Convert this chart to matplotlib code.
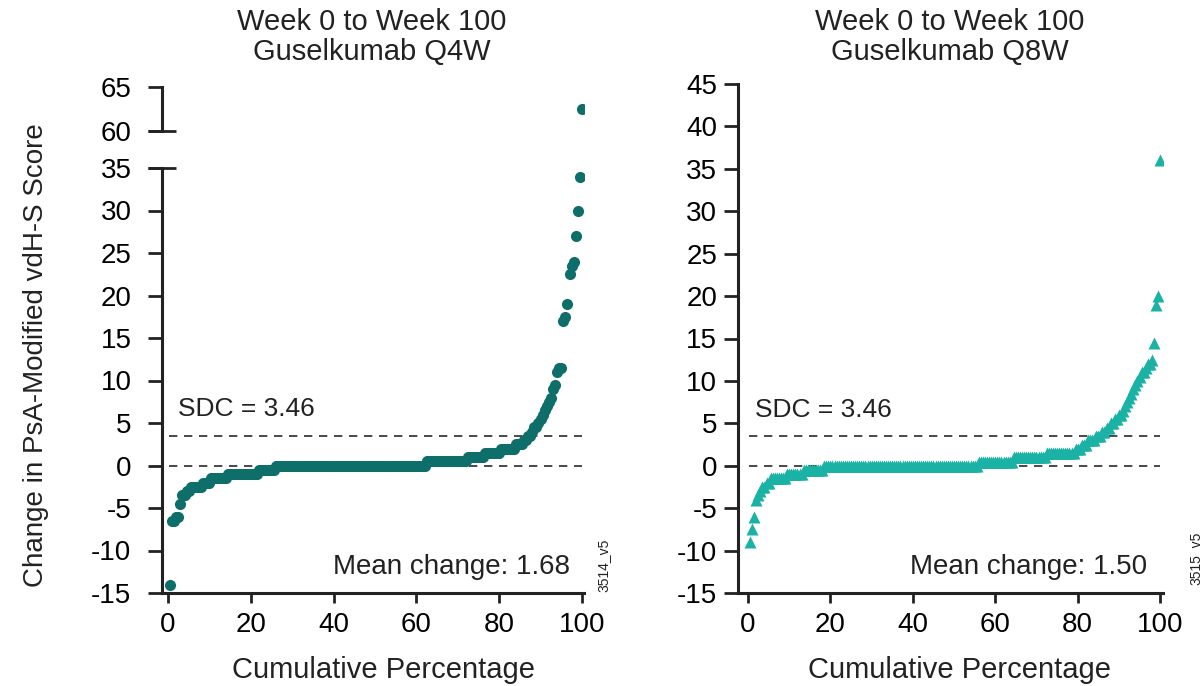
import numpy as np
import matplotlib.pyplot as plt

plt.rcParams['font.family'] = ['Liberation Sans', 'DejaVu Sans']
plt.rcParams['axes.unicode_minus'] = False

# change scores (sorted) and how many patients share each value
q4w_values = [-14, -6.5, -6, -4.5, -3.5, -3, -2.5, -2, -1.5, -1, -0.5, 0, 0.5, 1, 1.5, 2, 2.5, 3, 3.5,
              4, 4.5, 5, 5.5, 6, 6.5, 7, 7.5, 8, 9, 9.5, 11, 11.5, 17, 17.5, 19, 22.5, 23.5, 24, 27, 30, 34, 62.5]
q4w_counts = [1, 2, 2, 1, 2, 2, 6, 4, 8, 15, 8, 73, 20, 8, 8, 7, 4, 2, 2,
              1, 2, 1, 1, 1, 1, 1, 1, 1, 1, 1, 1, 2, 1, 1, 1, 1, 1, 1, 1, 1, 1, 1]

q8w_values = [-9, -7.5, -6, -4, -3.5, -3, -2.5, -2, -1.5, -1, -0.5, 0, 0.5, 1, 1.5, 2, 2.5, 3, 3.5,
              4, 4.5, 5, 5.5, 6, 6.5, 7, 7.5, 8, 8.5, 9, 9.5, 10, 10.5, 11, 11.5, 12, 12.5, 14.5, 19, 20, 36]
q8w_counts = [1, 1, 1, 1, 1, 1, 2, 2, 8, 8, 10, 75, 17, 16, 14, 3, 3, 4, 3,
              2, 2, 2, 2, 2, 1, 1, 1, 1, 1, 1, 1, 1, 1, 2, 1, 2, 1, 1, 1, 1, 1]

sdc = 3.46
mean_q4w = 1.68
mean_q8w = 1.50

q4w = np.repeat(q4w_values, q4w_counts)
q8w = np.repeat(q8w_values, q8w_counts)
pct_q4w = np.arange(1, len(q4w) + 1) / len(q4w) * 100
pct_q8w = np.arange(1, len(q8w) + 1) / len(q8w) * 100

W, H = 1201, 686
fig = plt.figure(figsize=(W / 100, H / 100), dpi=100)

def px_axes(left, top, right, bottom):
    return fig.add_axes([left / W, 1 - bottom / H, (right - left) / W, (bottom - top) / H])

ink = '#222222'
c_q4w = '#0e6e6a'
c_q8w = '#19b2a4'
fs = 20

def style(ax, ypad):
    for s in ['top', 'right']:
        ax.spines[s].set_visible(False)
    for s in ['left', 'bottom']:
        ax.spines[s].set_linewidth(2.2)
        ax.spines[s].set_color(ink)
    ax.tick_params(axis='y', length=10, width=2, color=ink, labelsize=fs, pad=ypad)
    ax.tick_params(axis='x', length=7, width=2, color=ink, labelsize=fs, pad=7)

def ref_lines(ax):
    for y in [0, sdc]:
        ax.hlines(y, 0.3, 100, colors='#2a2a2a', linewidth=1.2, linestyles=(0, (5, 4)), zorder=1)

# ---- left panel: Q4W with broken axis
axl = px_axes(162, 168, 584, 593)
axu = px_axes(162, 87, 584, 131)
for ax in (axl, axu):
    ax.plot(pct_q4w, q4w, 'o', color=c_q4w, ms=8, mec='none', zorder=3)
    ax.set_xlim(-1.45, 100.5)
    style(ax, 12)
axl.set_ylim(-15, 35)
axl.set_yticks(np.arange(-15, 36, 5))
axl.set_xticks(np.arange(0, 101, 20))
axu.set_ylim(60, 65)
axu.set_yticks([60, 65])
axu.spines['bottom'].set_visible(False)
axu.set_xticks([])
for ax, y in [(axl, 35), (axu, 60)]:
    ax.plot([-0.033, 0.033], [y, y], transform=ax.get_yaxis_transform(),
            color=ink, lw=2, clip_on=False, solid_capstyle='butt')
ref_lines(axl)
axl.text(2.4, 6.6, 'SDC = 3.46', fontsize=19, va='center', ha='left', color=ink)
axl.text(97, -12, f'Mean change: {mean_q4w:.2f}', fontsize=20, va='center', ha='right', color=ink)

# ---- right panel: Q8W
axr = px_axes(738, 84, 1163, 593)
axr.plot(pct_q8w, q8w, '^', color=c_q8w, ms=9, mec='none', zorder=3)
axr.set_xlim(-2.43, 100.7)
axr.set_ylim(-15, 45)
axr.set_yticks(np.arange(-15, 46, 5))
axr.set_xticks(np.arange(0, 101, 20))
style(axr, 5)
ref_lines(axr)
axr.text(1.7, 6.6, 'SDC = 3.46', fontsize=19, va='center', ha='left', color=ink)
axr.text(96.8, -11.9, f'Mean change: {mean_q8w:.2f}', fontsize=20, va='center', ha='right', color=ink)

# ---- titles, labels
for cx, grp in [(372, 'Q4W'), (950, 'Q8W')]:
    fig.text(cx / W, 1 - 22 / H, 'Week 0 to Week 100', fontsize=21, ha='center', va='center', color=ink)
    fig.text(cx / W, 1 - 52 / H, f'Guselkumab {grp}', fontsize=21, ha='center', va='center', color=ink)
for cx in [384, 960]:
    fig.text(cx / W, 1 - 670 / H, 'Cumulative Percentage', fontsize=21, ha='center', va='center', color=ink)
fig.text(36 / W, 1 - 355 / H, 'Change in PsA-Modified vdH-S Score', fontsize=20,
         rotation=90, ha='center', va='center', color=ink)
fig.text(603 / W, 1 - 565 / H, '3514_v5', fontsize=10, rotation=90, ha='center', va='center', color=ink)
fig.text(1195 / W, 1 - 558 / H, '3515_v5', fontsize=10, rotation=90, ha='center', va='center', color=ink)

fig.savefig('out.png', dpi=100)
